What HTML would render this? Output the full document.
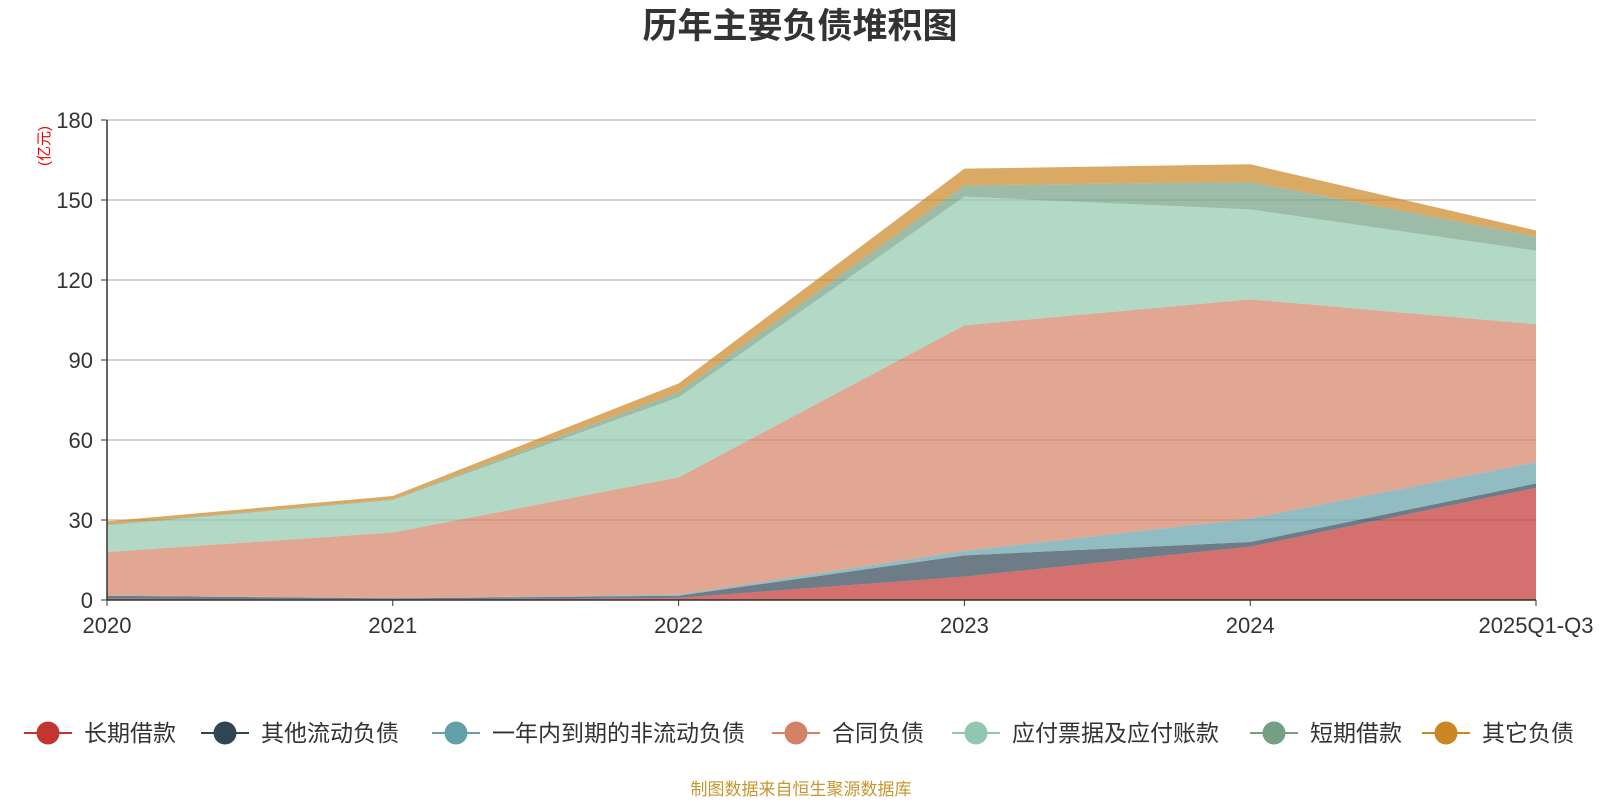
<!DOCTYPE html>
<html><head><meta charset="utf-8"><style>
body{margin:0;background:#fff;font-family:"Liberation Sans","Noto Sans CJK SC",sans-serif}
</style></head><body>
<svg id="c" width="1600" height="800" xmlns="http://www.w3.org/2000/svg">
<text x="800" y="38" text-anchor="middle" font-size="35" font-weight="bold" fill="#333" font-family="Liberation Sans,Noto Sans CJK SC,sans-serif">历年主要负债堆积图</text>
<text transform="translate(49,146) rotate(-90)" text-anchor="middle" font-size="15" fill="#e00" font-family="Liberation Sans,Noto Sans CJK SC,sans-serif">(亿元)</text>
<g id="grid"></g><g id="areas"></g><g id="axes"></g><g id="legend"></g>
<text x="801" y="795" text-anchor="middle" font-size="17" fill="#c8962e" font-family="Liberation Sans,Noto Sans CJK SC,sans-serif">制图数据来自恒生聚源数据库</text>
</svg>
<script>
const categories=["2020","2021","2022","2023","2024","2025Q1-Q3"];
const seriesNames=["长期借款","其他流动负债","一年内到期的非流动负债","合同负债","应付票据及应付账款","短期借款","其它负债"];
const longLoan=[0.5,0.2,0.8,8.75,20,42.1];
const otherCurrent=[1.1,0.4,0.8,8,1.75,1.6];
const dueWithinYear=[0.2,0.1,0.4,1.65,8.75,8];
const contractLiab=[16.2,24.6,44,84.6,82.25,51.7];
const payables=[10,12.2,30,48.25,33.75,27.6];
const shortLoan=[0.3,0.2,2,4.25,10.25,5.3];
const otherLiab=[1.2,1.3,3.2,6.25,6.65,2.3];
const yTicks=[0,30,60,90,120,150,180];
const colors=["#c23531","#2f4554","#61a0a8","#d48265","#91c7ae","#749f83","#ca8622"];
const series=[longLoan,otherCurrent,dueWithinYear,contractLiab,payables,shortLoan,otherLiab];
const NS="http://www.w3.org/2000/svg";
const X0=107,X1=1536,Y0=600,Y1=120;
const xs=i=>X0+i*(X1-X0)/(categories.length-1);
const ys=v=>Y0-v*(Y0-Y1)/180;
function mk(tag,attrs,parent){const e=document.createElementNS(NS,tag);for(const k in attrs)e.setAttribute(k,attrs[k]);parent.appendChild(e);return e;}
const grid=document.getElementById('grid'),axes=document.getElementById('axes'),areas=document.getElementById('areas'),legend=document.getElementById('legend');
yTicks.forEach(t=>{
 if(t>0){const l=mk('line',{x1:X0,x2:X1,y1:ys(t),y2:ys(t),stroke:'#bbb','stroke-width':1.3},grid);
 
 }
 const tk=mk('line',{x1:X0-6,x2:X0,y1:ys(t),y2:ys(t),stroke:'#333'},axes);
 
 
 const tx=mk('text',{x:X0-14,y:ys(t)+8,'text-anchor':'end','font-size':22,fill:'#333'},axes);
 tx.textContent=t;
 
 
});
let cum=categories.map(()=>0);
series.forEach((s,k)=>{
 const lo=cum.slice();cum=cum.map((c,i)=>c+s[i]);
 let d='M'+cum.map((v,i)=>xs(i)+','+ys(v)).join(' L');
 for(let i=lo.length-1;i>=0;i--)d+=' L'+xs(i)+','+ys(lo[i]);
 const p=mk('path',{d:d+'Z',fill:colors[k],'fill-opacity':0.7,stroke:'none'},areas);
 
 
});
const xa=mk('line',{x1:X0,x2:X1,y1:Y0,y2:Y0,stroke:'#333','stroke-width':1.5},axes);


const ya=mk('line',{x1:X0,x2:X0,y1:Y1,y2:Y0,stroke:'#333','stroke-width':1.5},axes);


categories.forEach((c,i)=>{
 const tk=mk('line',{x1:xs(i),x2:xs(i),y1:Y0,y2:Y0+6,stroke:'#333'},axes);
 
 
 const t=mk('text',{x:xs(i),y:Y0+33,'text-anchor':'middle','font-size':22,fill:'#333'},axes);
 t.textContent=c;
 
 
});
const lcx=[48,225,456,796,976,1274,1446];
seriesNames.forEach((n,k)=>{
 const g=mk('g',{},legend);
 
 
 mk('line',{x1:lcx[k]-24,x2:lcx[k]+24,y1:733,y2:733,stroke:colors[k],'stroke-width':2},g);
 mk('circle',{cx:lcx[k],cy:733,r:11.5,fill:colors[k]},g);
 const t=mk('text',{x:lcx[k]+36,y:741,'font-size':23,fill:'#333'},g);
 t.textContent=n;
});
</script>
</body></html>
